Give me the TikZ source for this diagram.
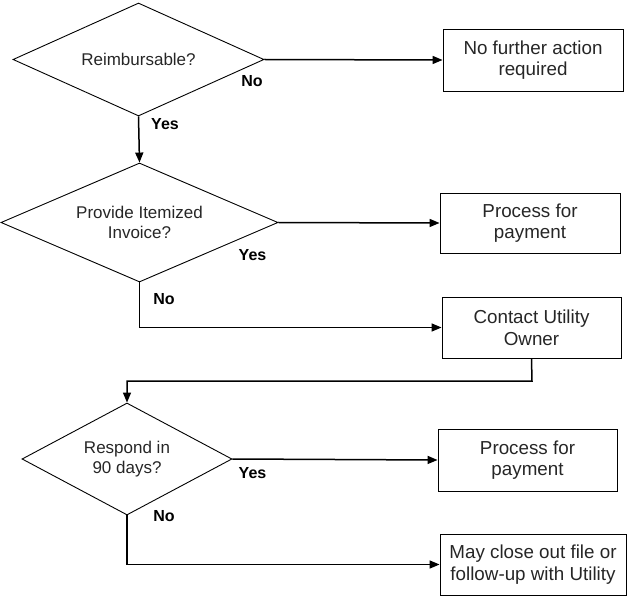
\documentclass[tikz,border=0pt]{standalone}
\usepackage{fontspec}
\setmainfont{Liberation Sans}
\usetikzlibrary{shapes.geometric,arrows.meta}
\begin{document}
\begin{tikzpicture}[x=1pt,y=-1pt,
  dec/.style={diamond,draw,line width=0.9pt,inner sep=0pt,align=center,
    font=\fontsize{17}{19.5}\selectfont,text=black!85},
  box/.style={rectangle,draw,line width=0.9pt,inner sep=0pt,align=center,
    font=\fontsize{18.8}{21.7}\selectfont,text=black!85},
  conn/.style={line width=1.5pt,-{Triangle[length=10pt,width=8pt]}},
  plain/.style={line width=1.5pt},
  lbl/.style={font=\bfseries\fontsize{16}{18}\selectfont,inner sep=0pt}]
\useasboundingbox (0,0) rectangle (627,596);
% decisions
\node[dec,minimum width=251pt,minimum height=113pt,aspect=2.22] (d1) at (138.5,59.5) {Reimbursable?};
\node[dec,minimum width=277pt,minimum height=119pt,aspect=2.33] (d2) at (139.5,222.5) {Provide Itemized\\Invoice?};
\node[dec,minimum width=210pt,minimum height=112pt,aspect=1.875] (d3) at (127,459) {Respond in\\90 days?};
% boxes
\node[box,minimum width=180pt,minimum height=62pt] (b1) at (533,60) {No further action\\required};
\node[box,minimum width=180pt,minimum height=60pt] (b2) at (530,223) {Process for\\payment};
\node[box,minimum width=179pt,minimum height=61pt] (b3) at (531.5,327.5) {Contact Utility\\Owner};
\node[box,minimum width=179pt,minimum height=62pt] (b4) at (527.5,460) {Process for\\payment};
\node[box,minimum width=186pt,minimum height=61pt] (b5) at (533,564.5) {May close out file or\\follow-up with Utility};
% connectors
\draw[conn] (d1.east) -- (b1.west);
\draw[conn] (d1.south) -- (d2.north);
\draw[conn] (d2.east) -- (b2.west);
\draw[conn] (d2.south) |- (b3.west);
\coordinate (turn) at (532,381);
\draw[conn] (b3.south) -- (turn) -| (d3.north);
\draw[conn] (d3.east) -- (b4.west);
\draw[conn] (d3.south) |- (b5.west);
% labels
\node[lbl] (l1) at (252,81) {No};
\node[lbl] (l2) at (165,124.5) {Yes};
\node[lbl] (l3) at (252.5,255) {Yes};
\node[lbl] (l4) at (164,299) {No};
\node[lbl] (l5) at (252.5,473) {Yes};
\node[lbl] (l6) at (164,516.5) {No};
\end{tikzpicture}
\end{document}
